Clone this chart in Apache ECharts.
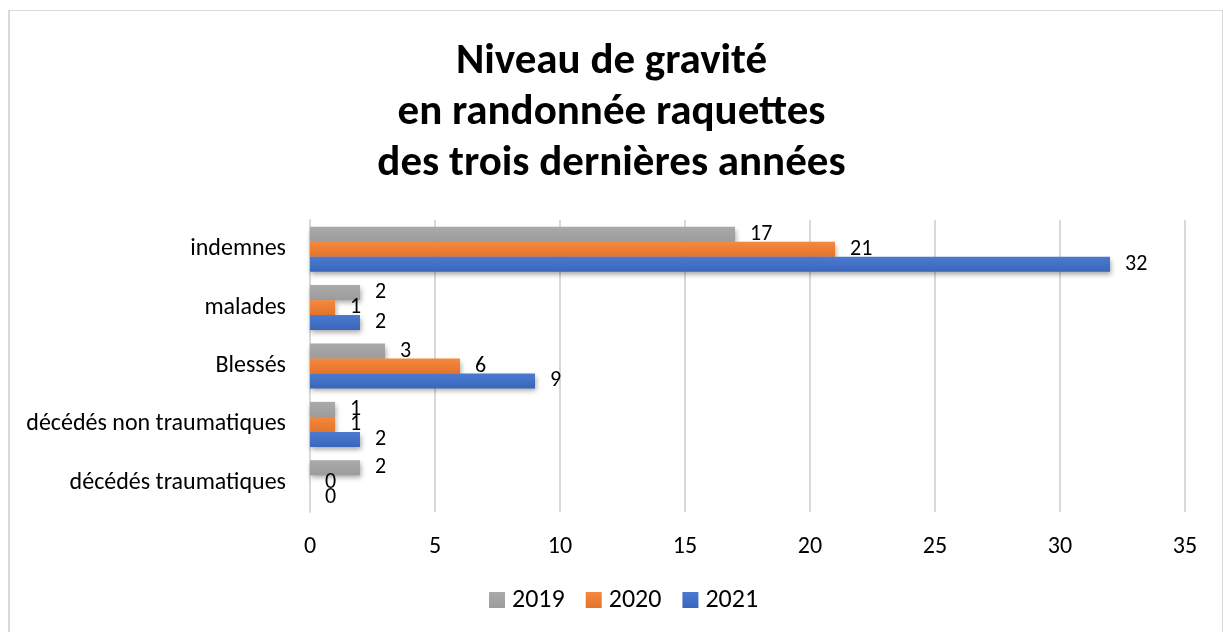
<!DOCTYPE html>
<html>
<head>
<meta charset="utf-8">
<script src="https://cdn.jsdelivr.net/npm/echarts@6/dist/echarts.min.js"></script>
<style>
  html, body { margin: 0; padding: 0; background: #fff; }
  #chart { position: absolute; left: 0; top: 0; width: 1223px; height: 632px; }
  .frame {
    position: absolute; left: 8px; top: 10px; width: 1212px; height: 640px;
    border-left: 2px solid #d9d9d9; border-top: 1px solid #d9d9d9; border-right: 1px solid #d9d9d9;
    pointer-events: none;
  }
</style>
</head>
<body>
<div id="chart"></div>
<div class="frame"></div>
<script>
// catégories (de bas en haut, comme dans Excel)
const categories = ['décédés traumatiques', 'décédés non traumatiques', 'Blessés', 'malades', 'indemnes']
const years = ['2019', '2020', '2021']
const values2019 = [2, 1, 3, 2, 17]
const values2020 = [0, 1, 6, 1, 21]
const values2021 = [0, 2, 9, 2, 32]
const xTicks = [0, 5, 10, 15, 20, 25, 30, 35]

const font = 'Carlito, "Open Sans", "Liberation Sans", sans-serif'

const grad = (top, bottom) => ({
  type: 'linear', x: 0, y: 0, x2: 0, y2: 1,
  colorStops: [{ offset: 0, color: top }, { offset: 1, color: bottom }]
})

const makeSeries = (name, data, color) => ({
  name: name,
  type: 'bar',
  data: data,
  barGap: '0%',
  barCategoryGap: '23%',
  itemStyle: {
    color: color,
    shadowColor: 'rgba(0,0,0,0.35)',
    shadowBlur: 5,
    shadowOffsetX: 1,
    shadowOffsetY: 3
  },
  label: {
    show: true,
    position: 'right',
    distance: 15,
    color: '#000',
    fontFamily: font,
    fontSize: 22
  }
})

const chart = echarts.init(document.getElementById('chart'))

chart.setOption({
  animation: false,
  title: {
    text: 'Niveau de gravité\nen randonnée raquettes\ndes trois dernières années',
    left: 'center',
    top: 32,
    textStyle: {
      fontFamily: font,
      fontWeight: 'bold',
      fontSize: 43,
      lineHeight: 51,
      color: '#000'
    }
  },
  legend: {
    data: years,
    top: 582,
    left: 484,
    itemWidth: 16,
    itemHeight: 16,
    itemGap: 21,
    icon: 'rect',
    textStyle: { fontFamily: font, fontSize: 26, color: '#000', padding: [0, 0, 0, 2] }
  },
  grid: {
    left: 310,
    right: 38,
    top: 220,
    bottom: 120
  },
  xAxis: {
    type: 'value',
    min: xTicks[0],
    max: xTicks[xTicks.length - 1],
    interval: 5,
    axisLine: { show: false },
    axisTick: { show: false },
    axisLabel: { fontFamily: font, fontSize: 24, color: '#000', margin: 23 },
    splitLine: { lineStyle: { color: '#d9d9d9', width: 2 } }
  },
  yAxis: {
    type: 'category',
    data: categories,
    axisLine: { show: true, lineStyle: { color: '#d9d9d9', width: 2 } },
    axisTick: { show: false },
    axisLabel: { fontFamily: font, fontSize: 24, color: '#000', margin: 24 }
  },
  series: [
    makeSeries('2019', values2019, grad('#aaaaaa', '#9c9c9c')),
    makeSeries('2020', values2020, grad('#f4893f', '#e4742a')),
    makeSeries('2021', values2021, grad('#4a7bd0', '#3a66b9'))
  ]
})
</script>
</body>
</html>
